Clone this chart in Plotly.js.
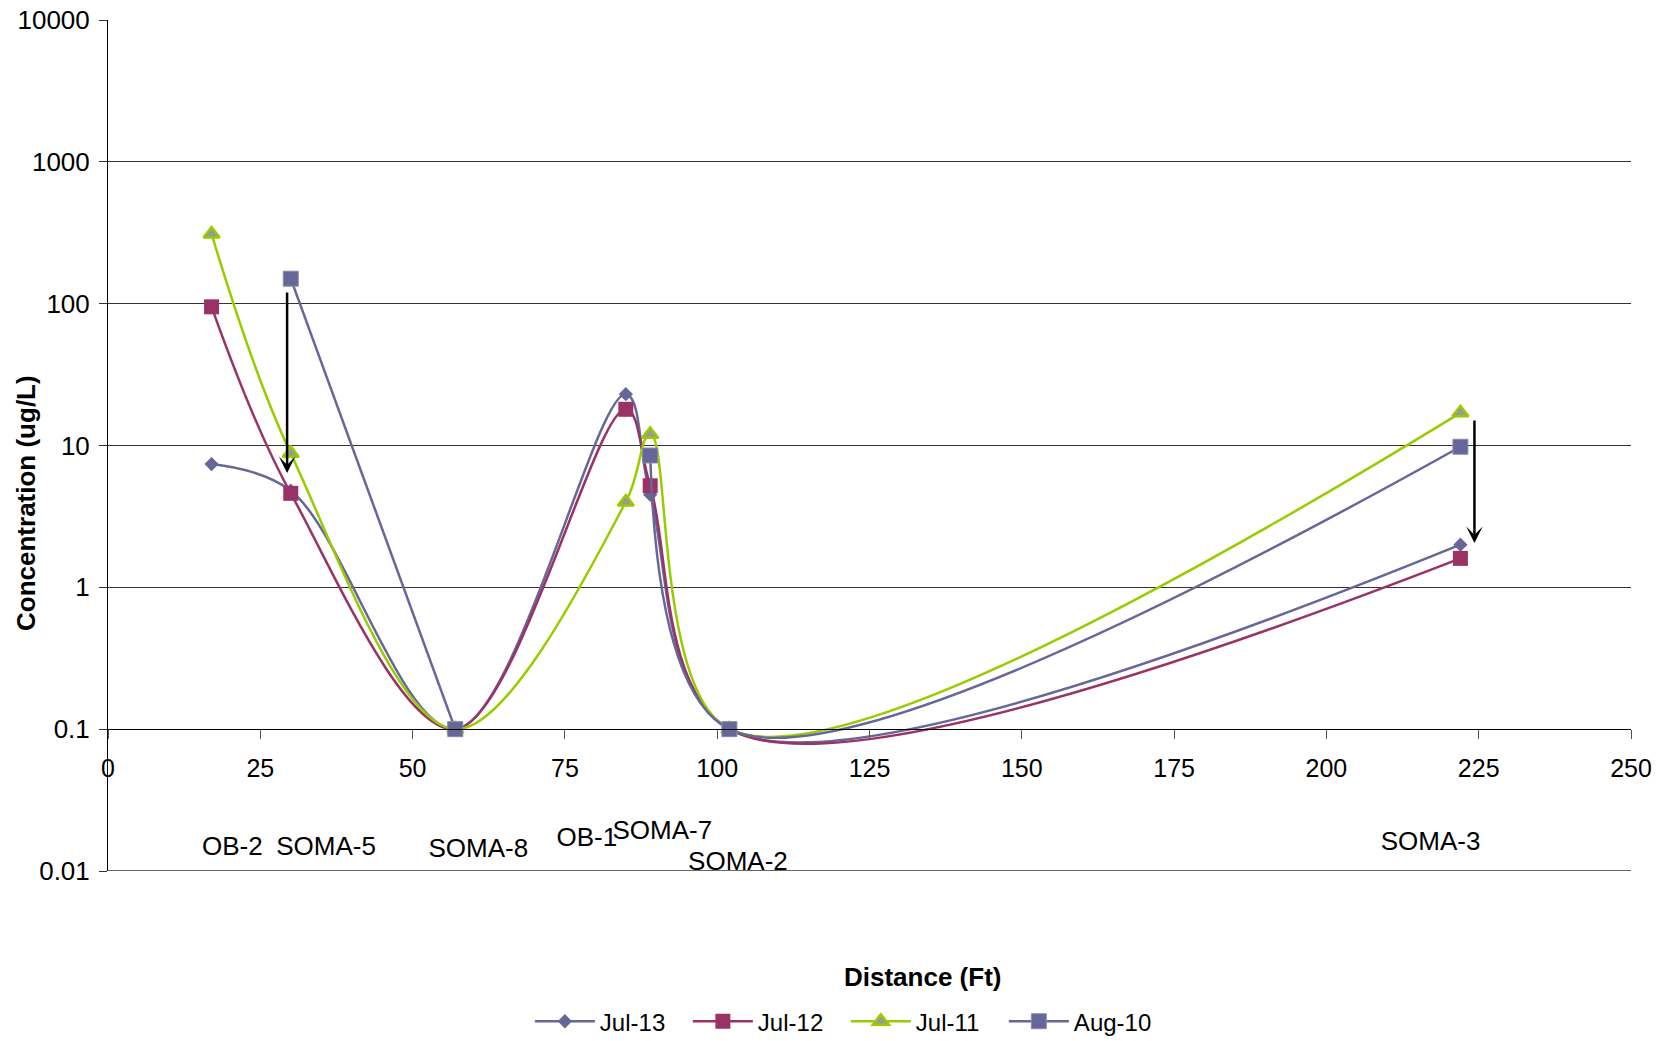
<!DOCTYPE html>
<html>
<head>
<meta charset="utf-8">
<script src="https://cdn.plot.ly/plotly-3.0.1.min.js"></script>
<style>
  html, body { margin: 0; padding: 0; background: #ffffff; overflow: hidden; }
  #chart { width: 1666px; height: 1041px; }
</style>
</head>
<body>
<div id="chart"></div>
<script>
// Monitoring wells and their distance along the transect (ft)
const wells = ["OB-2", "SOMA-5", "SOMA-8", "OB-1", "SOMA-7", "SOMA-2", "SOMA-3"];
const distance = [17, 30, 57, 85, 89, 102, 222];

// Concentration (ug/L) per sampling event; null = not sampled
const jul13 = [7.4, 4.8, 0.1, 23, 4.5, 0.1, 2.0];
const jul12 = [95, 4.6, 0.1, 18, 5.2, 0.1, 1.6];
const jul11 = [310, 8.8, 0.1, 4.0, 12, 0.1, 17];
const aug10 = [null, 150, 0.1, null, 8.5, 0.1, 9.8];

// Where each well name sits under the axis (distance, concentration)
const labelX = [20.4, 35.8, 60.8, 78.6, 91.0, 103.4, 217.1];
const labelY = [0.01435, 0.01435, 0.01406, 0.01663, 0.01854, 0.01132, 0.01556];

// Trend arrows: [distance, from, to] in ug/L
const trendArrows = [
  [29.4, 123, 6.4],
  [224.3, 15.4, 2.05]
];

const yTicks = [0.01, 0.1, 1, 10, 100, 1000, 10000];
const yTickText = ["0.01", "0.1", "1", "10", "100", "1000", "10000"];

const FONT = "Liberation Sans, Arial, sans-serif";
const BLUE = "#666699";
const PLUM = "#993366";
const GREEN = "#99CC00";
const GRID = "#333333";

function series(name, values, color, marker) {
  return {
    type: "scatter",
    mode: "lines+markers",
    name: name,
    x: distance,
    y: values,
    connectgaps: false,
    line: { color: color, width: 2.5, shape: "spline", smoothing: 1 },
    marker: marker,
    hoverinfo: "x+y+name"
  };
}

const traces = [
  series("Jul-13", jul13, BLUE, { symbol: "diamond", size: 11, color: BLUE, line: { width: 0 } }),
  series("Jul-12", jul12, PLUM, { symbol: "square", size: 15, color: PLUM, line: { width: 0 } }),
  series("Jul-11", jul11, GREEN, { symbol: "triangle-up", size: 14, color: "#999999", line: { width: 2.5, color: GREEN } }),
  series("Aug-10", aug10, BLUE, { symbol: "square", size: 15, color: BLUE, line: { width: 1, color: "#8c8cb3" } }),
  {
    type: "scatter",
    mode: "text",
    x: labelX,
    y: labelY,
    text: wells,
    textposition: "middle center",
    textfont: { family: FONT, size: 26, color: "#000000" },
    showlegend: false,
    hoverinfo: "skip",
    cliponaxis: false
  }
];

const annotations = trendArrows.map(a => ({
  x: a[0], y: Math.log10(a[2]),
  ax: a[0], ay: Math.log10(a[1]),
  xref: "x", yref: "y", axref: "x", ayref: "y",
  text: "",
  showarrow: true,
  arrowhead: 3,
  arrowsize: 1.1,
  arrowwidth: 2.5,
  arrowcolor: "#000000",
  standoff: 0,
  startstandoff: 0
}));

annotations.push({
  text: "<b>Concentration (ug/L)</b>",
  xref: "paper", yref: "paper",
  x: -0.0537, y: 0.4327,
  xanchor: "center", yanchor: "middle",
  textangle: -90,
  showarrow: false,
  font: { family: FONT, size: 26, color: "#000000" }
});
annotations.push({
  text: "<b>Distance (Ft)</b>",
  xref: "paper", yref: "paper",
  x: 0.5348, y: -0.1242,
  xanchor: "center", yanchor: "middle",
  showarrow: false,
  font: { family: FONT, size: 26, color: "#000000" }
});

const layout = {
  width: 1666,
  height: 1041,
  margin: { l: 108, r: 35, t: 20, b: 170, pad: 0, autoexpand: false },
  paper_bgcolor: "#ffffff",
  plot_bgcolor: "#ffffff",
  font: { family: FONT, size: 25, color: "#000000" },
  showlegend: true,
  legend: {
    orientation: "h",
    x: 0.277, xanchor: "left",
    y: -0.177, yanchor: "middle",
    font: { family: FONT, size: 24, color: "#000000" },
    itemwidth: 60,
    entrywidth: 83,
    entrywidthmode: "pixels",
    traceorder: "normal",
    bgcolor: "rgba(0,0,0,0)"
  },
  xaxis: {
    type: "linear",
    range: [0, 250],
    tick0: 0,
    dtick: 25,
    anchor: "free",
    position: 1 / 6,
    showgrid: false,
    zeroline: false,
    showline: true,
    linecolor: "#000000",
    linewidth: 1,
    ticks: "outside",
    ticklen: 9,
    tickwidth: 1,
    tickcolor: "#555555",
    ticklabelstandoff: 8,
    tickfont: { family: FONT, size: 25, color: "#000000" }
  },
  yaxis: {
    type: "log",
    range: [-2, 4],
    domain: [0, 1],
    tickmode: "array",
    tickvals: yTicks,
    ticktext: yTickText,
    showgrid: true,
    gridcolor: GRID,
    gridwidth: 1,
    zeroline: false,
    showline: true,
    linecolor: "#000000",
    linewidth: 1,
    ticks: "outside",
    ticklen: 8,
    tickwidth: 1,
    tickcolor: GRID,
    ticklabelstandoff: 4,
    tickfont: { family: FONT, size: 26, color: "#000000" }
  },
  // bottom gridline at the lowest decade of the concentration axis
  shapes: [{
    type: "line",
    xref: "paper", x0: 0, x1: 1,
    yref: "y", y0: yTicks[0], y1: yTicks[0],
    line: { color: GRID, width: 1.5 },
    layer: "above"
  }],
  annotations: annotations
};

Plotly.newPlot("chart", traces, layout, { displayModeBar: false, staticPlot: true });
</script>
</body>
</html>
